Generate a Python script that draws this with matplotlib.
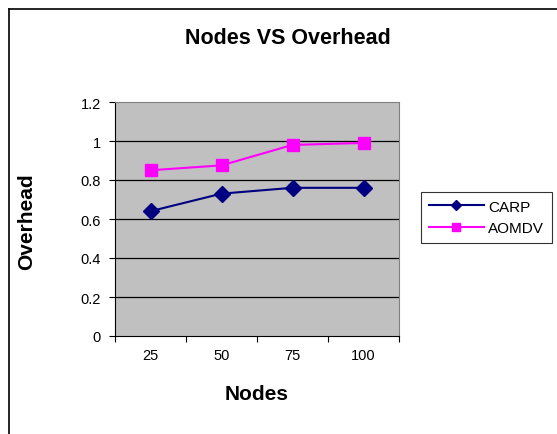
import numpy as np
import matplotlib.pyplot as plt
from matplotlib.lines import Line2D

plt.rcParams['font.family'] = ['Liberation Sans', 'DejaVu Sans']

nodes = ['25', '50', '75', '100']
carp = [0.64, 0.73, 0.76, 0.76]
aomdv = [0.85, 0.875, 0.98, 0.99]
yticks = [0, 0.2, 0.4, 0.6, 0.8, 1.0, 1.2]
ytick_labels = ['0', '0.2', '0.4', '0.6', '0.8', '1', '1.2']

W, H = 557, 435
fig = plt.figure(figsize=(W / 100, H / 100), dpi=100)

# outer chart frame (left and top edge visible)
fig.add_artist(Line2D([9 / W, 9 / W], [0, 1 - 10 / H], color='black', lw=1.2))
fig.add_artist(Line2D([9 / W, 1], [1 - 10 / H, 1 - 10 / H], color='black', lw=1.2))

left, right, top, bottom = 115, 399, 103, 337
ax = fig.add_axes([left / W, 1 - bottom / H, (right - left) / W, (bottom - top) / H])
ax.set_facecolor('#C0C0C0')

x = np.arange(len(nodes))
ax.plot(x, carp, color='#000080', marker='D', markersize=8, lw=1.5, label='CARP')
ax.plot(x, aomdv, color='#FF00FF', marker='s', markersize=8, lw=1.5, label='AOMDV')

ax.set_xlim(-0.5, len(nodes) - 0.5)
ax.set_ylim(0, 1.2)
ax.set_yticks(yticks)
ax.set_yticklabels(ytick_labels, fontsize=10.5)
for y in yticks[1:-1]:
    ax.axhline(y, color='black', lw=0.9, zorder=0.5)

ax.set_xticks(np.arange(-0.5, len(nodes)), minor=False)
ax.set_xticklabels([])
ax.set_xticks(x, minor=True)
ax.set_xticklabels(nodes, minor=True, fontsize=10.5)
ax.tick_params(axis='x', which='minor', length=0, pad=9)
ax.tick_params(axis='x', which='major', direction='out', length=4, color='black')
ax.tick_params(axis='y', direction='out', length=4, color='black', pad=6)

for s in ['top', 'right']:
    ax.spines[s].set_color('#808080')
for s in ['left', 'bottom']:
    ax.spines[s].set_color('black')

fig.text(288 / W, 1 - 38 / H, 'Nodes VS Overhead', ha='center', va='center',
         fontsize=15.5, fontweight='bold')
fig.text(257 / W, 1 - 395 / H, 'Nodes', ha='center', va='center',
         fontsize=15, fontweight='bold')
fig.text(27 / W, 1 - 222 / H, 'Overhead', ha='center', va='center',
         fontsize=15, fontweight='bold', rotation=90)

leg = fig.legend(loc='upper left', bbox_to_anchor=(421 / W, 1 - 193 / H),
                 fontsize=11, frameon=True, fancybox=False, edgecolor='black',
                 borderpad=0.5, handlelength=3.6, markerscale=0.7,
                 labelspacing=0.5, handletextpad=0.3, borderaxespad=0)
leg.get_frame().set_linewidth(0.8)

fig.savefig('out.png', dpi=100)
